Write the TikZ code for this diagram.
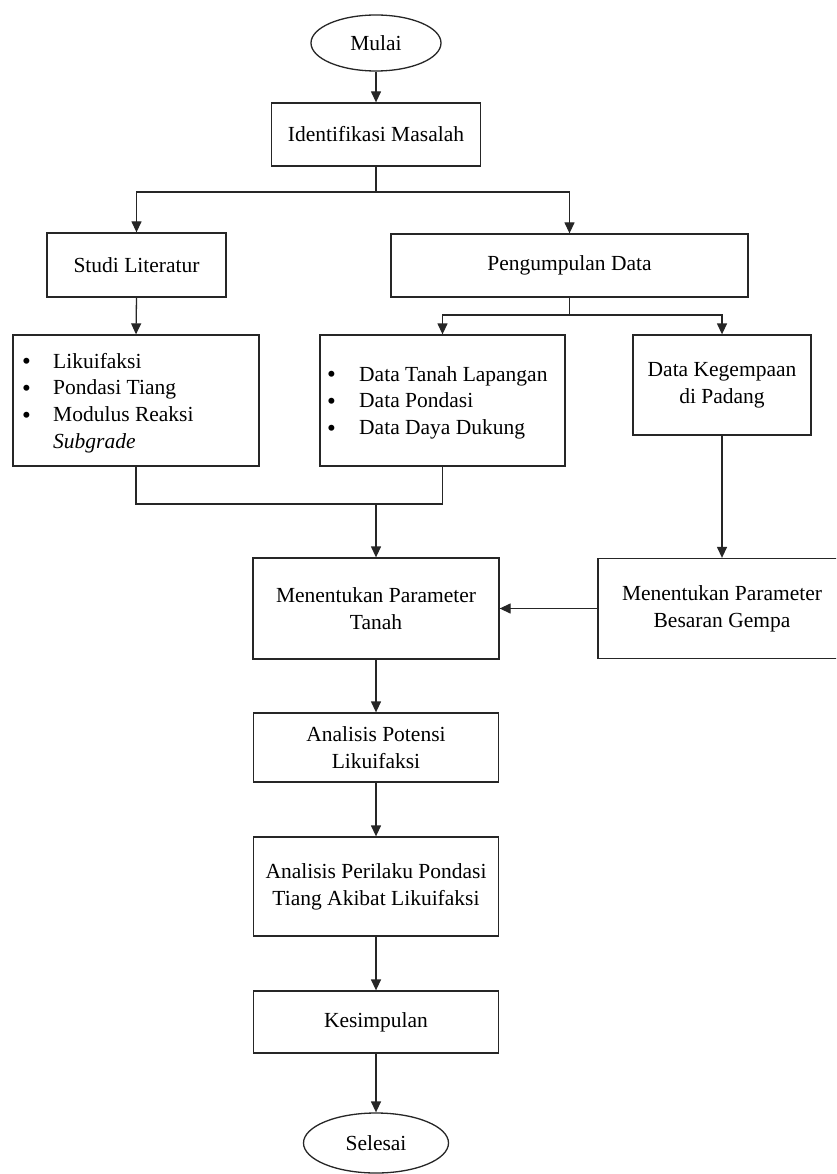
\documentclass[tikz,border=0pt]{standalone}
\usepackage{fontspec}
\setmainfont{Liberation Serif}
\usetikzlibrary{shapes.geometric,arrows.meta}
\newcommand{\bigbul}{\raisebox{-1.5pt}{\fontsize{25}{26.7}\selectfont\textbullet}}
\begin{document}
\begin{tikzpicture}[x=1pt,y=-1pt,
  box/.style={draw=black!85,line width=1.3pt,fill=white,rectangle,align=center,inner sep=2pt,
    font=\fontsize{21.5}{27}\selectfont},
  oval/.style={draw=black!85,line width=1.3pt,fill=white,ellipse,inner sep=0pt,
    font=\fontsize{21.5}{27}\selectfont},
  conn/.style={draw=black!85,line width=1.3pt},
  arr/.style={conn,-{Triangle[length=11pt,width=10pt]}},
  listtxt/.style={anchor=west,inner sep=0pt,align=left,font=\fontsize{21.5}{26.7}\selectfont}]
\clip (0,0) rectangle (836,1174);
\fill[white] (0,0) rectangle (836,1174);

% nodes
\node[oval,minimum width=130pt,minimum height=56pt] (mulai) at (376,43) {Mulai};
\node[box,minimum width=209pt,minimum height=63pt] (ident) at (376,134.5) {Identifikasi Masalah};
\node[box,minimum width=179pt,minimum height=64pt] (studi) at (136.5,265) {Studi Literatur};
\node[box,minimum width=357pt,minimum height=63pt] (peng) at (569.5,265.5) {Pengumpulan Data};

\node[box,minimum width=246pt,minimum height=131pt] (lit) at (136,400.5) {};
\node[listtxt] (littxt) at (22,403) {\begin{tabular}{@{}p{31pt}@{}l@{}}
\bigbul & Likuifaksi\\
\bigbul & Pondasi Tiang\\
\bigbul & Modulus Reaksi\\
 & \textit{Subgrade}
\end{tabular}};

\node[box,minimum width=245pt,minimum height=131pt] (data) at (442.5,400.5) {};
\node[listtxt] (datatxt) at (327,402.5) {\begin{tabular}{@{}p{32pt}@{}l@{}}
\bigbul & Data Tanah Lapangan\\
\bigbul & Data Pondasi\\
\bigbul & Data Daya Dukung
\end{tabular}};

\node[box,minimum width=178pt,minimum height=100pt] (kegem) at (722,385) {Data Kegempaan\\di Padang};

\node[box,minimum width=246pt,minimum height=101pt] (tanah) at (376,608.5) {Menentukan Parameter\\Tanah};
\node[box,minimum width=248pt,minimum height=100pt] (gempa) at (722,608.5) {Menentukan Parameter\\Besaran Gempa};

\node[box,minimum width=245pt,minimum height=69pt] (potensi) at (376,747.5) {Analisis Potensi\\Likuifaksi};
\node[box,minimum width=245pt,minimum height=99pt] (perilaku) at (376,886.5) {Analisis Perilaku Pondasi\\Tiang Akibat Likuifaksi};
\node[box,minimum width=245pt,minimum height=62pt] (kesim) at (376,1022) {Kesimpulan};
\node[oval,minimum width=145pt,minimum height=60pt] (selesai) at (376,1143) {Selesai};

% junctions
\coordinate (j1) at (376,192);
\coordinate (j2) at (569.5,315);
\coordinate (j3) at (376,504);

% connectors
\draw[arr] (mulai.south) -- (ident.north);
\draw[conn] (ident.south) -- (j1);
\draw[arr] (j1) -| (studi.north);
\draw[arr] (j1) -| (peng.north);
\draw[arr] (studi.south) -- (lit.north);
\draw[conn] (peng.south) -- (j2);
\draw[arr] (j2) -| (data.north);
\draw[arr] (j2) -| (kegem.north);
\draw[conn] (lit.south) |- (j3) -| (data.south);
\draw[arr] (j3) -- (tanah.north);
\draw[arr] (kegem.south) -- (gempa.north);
\draw[arr] (gempa.west) -- (tanah.east);
\draw[arr] (tanah.south) -- (potensi.north);
\draw[arr] (potensi.south) -- (perilaku.north);
\draw[arr] (perilaku.south) -- (kesim.north);
\draw[arr] (kesim.south) -- (selesai.north);
\end{tikzpicture}
\end{document}
